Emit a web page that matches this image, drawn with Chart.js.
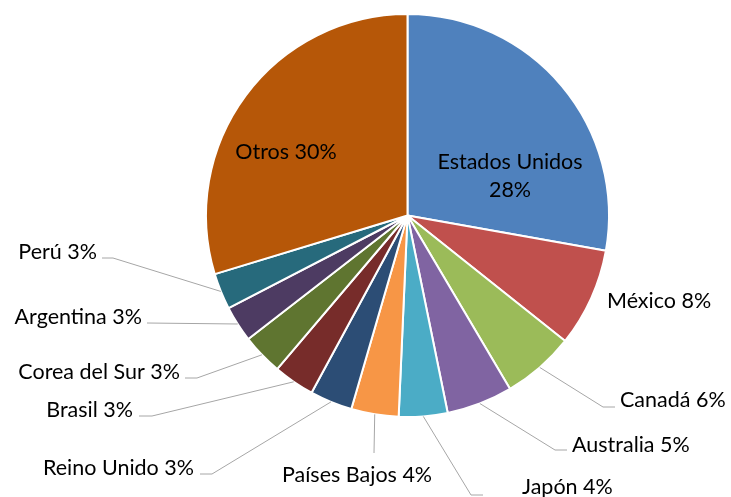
<!DOCTYPE html>
<html>
<head>
<meta charset="utf-8">
<script src="https://cdn.jsdelivr.net/npm/chart.js@4.4.1/dist/chart.umd.min.js"></script>
<style>
  html, body { margin: 0; padding: 0; background: #ffffff; }
  #wrap { width: 731px; height: 497px; position: relative; }
</style>
</head>
<body>
<div id="wrap"><canvas id="c"></canvas></div>
<script>
// ---- data ----
const categories = ['Estados Unidos', 'México', 'Canadá', 'Australia', 'Japón', 'Países Bajos',
  'Reino Unido', 'Brasil', 'Corea del Sur', 'Argentina', 'Perú', 'Otros'];
const shares = [27.8, 7.9, 5.8, 5.3, 3.9, 3.8, 3.4, 3.3, 3.3, 2.9, 2.9, 29.7];
const sliceColors = ['#4F81BD', '#C0504D', '#9BBB59', '#8064A2', '#4BACC6', '#F79646',
  '#2C4D75', '#772C2A', '#5F7530', '#4D3B62', '#276A7C', '#B65708'];

// ---- label layout (positions only) ----
const FONT = '21.5px Lato, "Liberation Sans", sans-serif';
const labelLayout = [
  { mode: 'inside2', x: 510, y1: 162, y2: 190 },
  { mode: 'text', align: 'left', x: 607, y: 301 },
  { mode: 'leader', align: 'left', x: 620, y: 400, elbow: [603, 407], end: [615, 407] },
  { mode: 'leader', align: 'left', x: 572, y: 445, elbow: [555, 450], end: [567, 450] },
  { mode: 'leader', align: 'left', x: 522, y: 487, elbow: [471, 495], end: [483, 495] },
  { mode: 'leader', align: 'center', x: 357, y: 475, elbow: [374, 453], end: [374, 453] },
  { mode: 'leader', align: 'right', x: 194, y: 468, elbow: [212, 474], end: [200, 474] },
  { mode: 'leader', align: 'right', x: 133, y: 410, elbow: [152, 416], end: [139, 416] },
  { mode: 'leader', align: 'right', x: 180, y: 372, elbow: [197, 378], end: [185, 378] },
  { mode: 'leader', align: 'right', x: 142, y: 317, elbow: [147, 323], end: [147, 323] },
  { mode: 'leader', align: 'right', x: 97, y: 252, elbow: [113, 258], end: [102, 258] },
  { mode: 'text', align: 'center', x: 286, y: 152 }
];

const pieLabels = {
  id: 'pieLabels',
  afterDatasetsDraw(chart) {
    const ctx = chart.ctx;
    const meta = chart.getDatasetMeta(0);
    const data = chart.data.datasets[0].data;
    ctx.save();
    ctx.font = FONT;
    ctx.fillStyle = '#000000';
    ctx.textBaseline = 'middle';
    meta.data.forEach((arc, i) => {
      const L = labelLayout[i];
      const pct = Math.round(data[i]) + '%';
      const name = chart.data.labels[i];
      if (L.mode === 'inside2') {
        ctx.textAlign = 'center';
        ctx.fillText(name, L.x, L.y1);
        ctx.fillText(pct, L.x, L.y2);
        return;
      }
      if (L.mode === 'leader') {
        const p = arc.getProps(['x', 'y', 'startAngle', 'endAngle', 'outerRadius'], true);
        const mid = (p.startAngle + p.endAngle) / 2;
        const sx = p.x + Math.cos(mid) * p.outerRadius;
        const sy = p.y + Math.sin(mid) * p.outerRadius;
        ctx.beginPath();
        ctx.strokeStyle = '#A6A6A6';
        ctx.lineWidth = 1;
        ctx.moveTo(sx, sy);
        ctx.lineTo(L.elbow[0], L.elbow[1]);
        ctx.lineTo(L.end[0], L.end[1]);
        ctx.stroke();
      }
      ctx.textAlign = L.align;
      ctx.fillText(name + ' ' + pct, L.x, L.y);
    });
    ctx.restore();
  }
};

new Chart(document.getElementById('c'), {
  type: 'pie',
  data: {
    labels: categories,
    datasets: [{
      data: shares,
      backgroundColor: sliceColors,
      borderColor: '#ffffff',
      borderWidth: 2
    }]
  },
  options: {
    responsive: true,
    maintainAspectRatio: false,
    animation: false,
    layout: { padding: { left: 84, right: 0, top: 13, bottom: 79 } },
    plugins: {
      legend: { display: false },
      tooltip: { enabled: false },
      title: { display: false }
    }
  },
  plugins: [pieLabels]
});
</script>
</body>
</html>
